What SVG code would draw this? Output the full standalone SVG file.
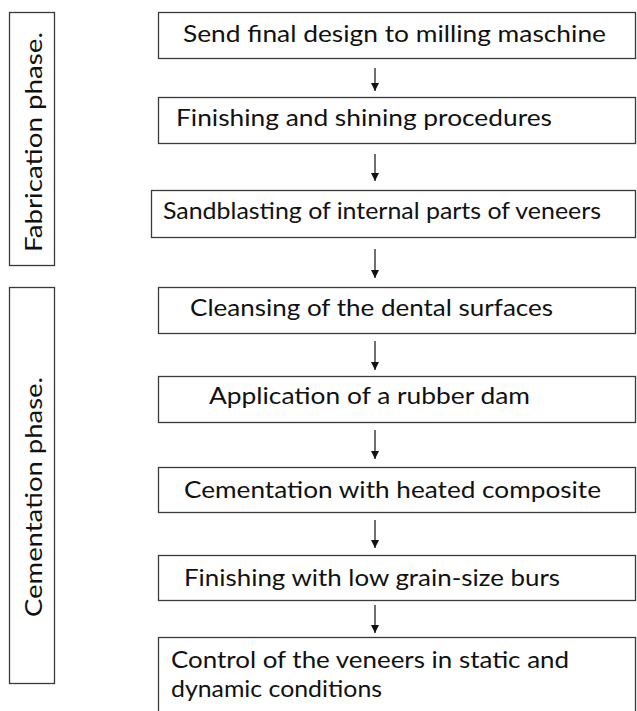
<svg xmlns="http://www.w3.org/2000/svg" width="637" height="711" viewBox="0 0 637 711">
<defs>
<style>
.box{fill:#ffffff;stroke:#3a3a3a;stroke-width:1.3}
.t{font-family:Lato,"Open Sans","Liberation Sans",sans-serif;font-size:24px;fill:#111111}
.c{stroke:#111111;stroke-width:1.2;fill:none}
</style>
<marker id="ah" viewBox="0 0 10 10" refX="10" refY="5" markerWidth="8" markerHeight="8" markerUnits="userSpaceOnUse" orient="auto">
<path d="M0,0 L10,5 L0,10 z" fill="#111111"/>
</marker>
</defs>
<rect width="637" height="711" fill="#ffffff"/>
<g id="fabrication">
<rect class="box" x="9.5" y="12.5" width="45" height="253"/>
<text class="t" transform="translate(42,142) rotate(-90)" text-anchor="middle" textLength="220" lengthAdjust="spacingAndGlyphs">Fabrication phase.</text>
</g>
<g id="cementation">
<rect class="box" x="9.5" y="287.5" width="45" height="396"/>
<text class="t" transform="translate(42,497) rotate(-90)" text-anchor="middle" textLength="240" lengthAdjust="spacingAndGlyphs">Cementation phase.</text>
</g>
<g id="n1">
<rect class="box" x="158.5" y="12.5" width="477" height="46"/>
<text class="t" x="183" y="42" textLength="423" lengthAdjust="spacingAndGlyphs">Send final design to milling maschine</text>
</g>
<g id="n2">
<rect class="box" x="158.5" y="97.5" width="477" height="46"/>
<text class="t" x="176" y="126" textLength="376" lengthAdjust="spacingAndGlyphs">Finishing and shining procedures</text>
</g>
<g id="n3">
<rect class="box" x="151.5" y="190.5" width="484" height="47"/>
<text class="t" x="163" y="219" textLength="438" lengthAdjust="spacingAndGlyphs">Sandblasting of internal parts of veneers</text>
</g>
<g id="n4">
<rect class="box" x="158.5" y="287.5" width="477" height="46"/>
<text class="t" x="190" y="316" textLength="363" lengthAdjust="spacingAndGlyphs">Cleansing of the dental surfaces</text>
</g>
<g id="n5">
<rect class="box" x="158.5" y="376.5" width="477" height="46"/>
<text class="t" x="209" y="404" textLength="321" lengthAdjust="spacingAndGlyphs">Application of a rubber dam</text>
</g>
<g id="n6">
<rect class="box" x="158.5" y="467.5" width="477" height="45"/>
<text class="t" x="184" y="498" textLength="417" lengthAdjust="spacingAndGlyphs">Cementation with heated composite</text>
</g>
<g id="n7">
<rect class="box" x="158.5" y="555.5" width="477" height="45"/>
<text class="t" x="184" y="586" textLength="376" lengthAdjust="spacingAndGlyphs">Finishing with low grain-size burs</text>
</g>
<g id="n8">
<rect class="box" x="158.5" y="637.5" width="477" height="80"/>
<text class="t" x="171" y="668" textLength="398" lengthAdjust="spacingAndGlyphs">Control of the veneers in static and</text>
<text class="t" x="171" y="697" textLength="211" lengthAdjust="spacingAndGlyphs">dynamic conditions</text>
</g>
<g id="connectors">
<line class="c" x1="375" y1="68" x2="375" y2="91" marker-end="url(#ah)"/>
<line class="c" x1="375" y1="154" x2="375" y2="181" marker-end="url(#ah)"/>
<line class="c" x1="375" y1="249" x2="375" y2="278" marker-end="url(#ah)"/>
<line class="c" x1="375" y1="341" x2="375" y2="370" marker-end="url(#ah)"/>
<line class="c" x1="375" y1="430" x2="375" y2="459" marker-end="url(#ah)"/>
<line class="c" x1="375" y1="520" x2="375" y2="548" marker-end="url(#ah)"/>
<line class="c" x1="375" y1="605" x2="375" y2="633" marker-end="url(#ah)"/>
</g>
</svg>
